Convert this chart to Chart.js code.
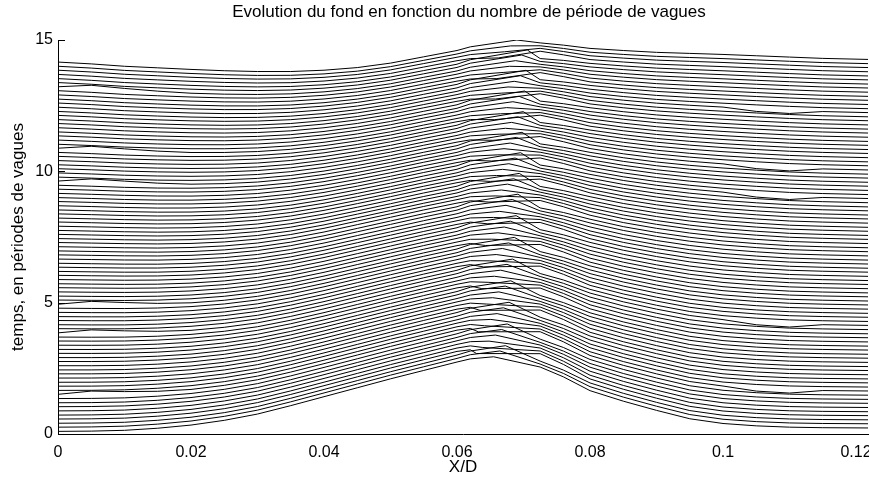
<!DOCTYPE html>
<html lang="fr">
<head>
<meta charset="UTF-8">
<title>Evolution du fond</title>
<style>
html,body{margin:0;padding:0;background:#fff;}
#wrap{width:869px;height:478px;position:relative;}
</style>
</head>
<body>
<div id="wrap"><canvas id="fond"></canvas></div>
<script src="https://cdn.jsdelivr.net/npm/chart.js"></script>
<script>
// abscisses X/D of the profile points (crest point is inserted per frame)
const xPos = [0, 0.005, 0.01, 0.015, 0.02, 0.025, 0.03, 0.035, 0.04, 0.045, 0.05, 0.055, 0.06, 0.062,
  0.0725, 0.076, 0.08, 0.085, 0.09, 0.095, 0.1, 0.105, 0.11, 0.115, 0.1218];
// bed elevation above each frame's time offset, read at three frames
const bedStart = [0.1, 0.11, 0.14, 0.22, 0.34, 0.52, 0.76, 1.08, 1.42, 1.76, 2.1, 2.42, 2.74, 2.8,
  2.5, 2.15, 1.65, 1.25, 0.9, 0.58, 0.4, 0.31, 0.26, 0.24, 0.23];
const bedMid = [0.1, 0.08, 0.06, 0.05, 0.07, 0.13, 0.24, 0.42, 0.66, 0.94, 1.22, 1.5, 1.76, 1.85,
  1.72, 1.55, 1.3, 1.02, 0.8, 0.62, 0.48, 0.38, 0.3, 0.26, 0.22];
const bedEnd = [0.1, 0.03, -0.06, -0.12, -0.18, -0.23, -0.26, -0.26, -0.21, -0.11, 0.06, 0.3, 0.54, 0.62,
  0.78, 0.72, 0.62, 0.54, 0.47, 0.43, 0.39, 0.34, 0.29, 0.24, 0.2];
const snapFrames = [0, 45, 90];
const crestX = [0.065, 0.067, 0.0685];
const crestZ = [2.65, 1.8, 0.65];
// crest cycle (avalanche pattern, repeats every six frames)
const crestShift = [-0.0022, -0.0013, -0.0004, 0.0005, 0.0014, 0.0022];
const crestRise = [0, 0.1, 0.2, 0.29, 0.37, 0.44];
const windRise = [0, 0.02, 0.04, 0.06, 0.08, 0.09];
const leeRise = [0.14, 0.11, 0.08, 0.05, 0.02, 0];
const leeRise2 = [0.07, 0.055, 0.04, 0.025, 0.01, 0];
const phaseStart = 3;
// frames showing a small kink near the left end and near x = 0.11
const leftKinkFrames = [9, 24, 31, 61, 69, 84];
const leftKink = [0.12, 0.08, 0.03];
const rightKinkFrames = [9, 25, 56, 63, 77];
const rightKink = [-0.1, -0.12];
// time offset of each plotted frame, in wave periods
const frameTimes = [0.00, 0.16, 0.31, 0.47, 0.62, 0.78, 0.94, 1.09, 1.25, 1.41, 1.56, 1.72, 1.87, 2.03, 2.19,
  2.34, 2.50, 2.66, 2.81, 2.97, 3.12, 3.28, 3.44, 3.59, 3.75, 3.91, 4.06, 4.22, 4.37, 4.53, 4.69, 4.84,
  5.00, 5.15, 5.31, 5.47, 5.62, 5.78, 5.94, 6.09, 6.25, 6.40, 6.56, 6.72, 6.87, 7.03, 7.19, 7.34, 7.50,
  7.65, 7.81, 7.97, 8.12, 8.28, 8.43, 8.59, 8.75, 8.90, 9.06, 9.22, 9.37, 9.53, 9.68, 9.84, 10.00, 10.15,
  10.31, 10.47, 10.62, 10.78, 10.93, 11.09, 11.25, 11.40, 11.56, 11.72, 11.87, 12.03, 12.18, 12.34, 12.50,
  12.65, 12.81, 12.97, 13.12, 13.28, 13.43, 13.59, 13.75, 13.90, 14.06];
const xTicks = [0, 0.02, 0.04, 0.06, 0.08, 0.1, 0.12];
const xTickLabels = ['0', '0.02', '0.04', '0.06', '0.08', '0.1', '0.12'];
const yTicks = [0, 5, 10, 15];
const chartTitle = 'Evolution du fond en fonction du nombre de période de vagues';

const bedSnaps = [bedStart, bedMid, bedEnd];
const iWind = xPos.indexOf(0.062), iLee = xPos.indexOf(0.0725), iLee2 = xPos.indexOf(0.076);
const iRight = xPos.indexOf(0.105);
function blend(a, b, w){ return a + (b - a) * w; }

const datasets = frameTimes.map((t, k) => {
  const seg = k <= snapFrames[1] ? 0 : 1;
  const w = (k - snapFrames[seg]) / (snapFrames[seg + 1] - snapFrames[seg]);
  const pa = bedSnaps[seg], pb = bedSnaps[seg + 1];
  const ph = (k + phaseStart) % crestRise.length;
  const z = xPos.map((x, i) => blend(pa[i], pb[i], w));
  z[iWind] += windRise[ph];
  z[iLee] += leeRise[ph];
  z[iLee2] += leeRise2[ph];
  if (leftKinkFrames.includes(k)) leftKink.forEach((d, j) => { z[1 + j] += d; });
  if (rightKinkFrames.includes(k)) rightKink.forEach((d, j) => { z[iRight + j] += d; });
  const pts = xPos.map((x, i) => ({x: x, y: t + z[i]}));
  pts.push({
    x: blend(crestX[seg], crestX[seg + 1], w) + crestShift[ph],
    y: t + blend(crestZ[seg], crestZ[seg + 1], w) + crestRise[ph]
  });
  pts.sort((p, q) => p.x - q.x);
  return {data: pts, borderColor: '#000', borderWidth: 1, pointRadius: 0, tension: 0, fill: false};
});

const font = 'Liberation Sans, Arial, Helvetica, sans-serif';

// inward tick marks and the figure title (placed over the axes like the original)
const decor = {
  id: 'decor',
  afterDatasetsDraw(chart){
    const ctx = chart.ctx, ys = chart.scales.y, a = chart.chartArea;
    ctx.save();
    ctx.strokeStyle = '#000';
    ctx.lineWidth = 1;
    yTicks.forEach(v => {
      const py = Math.round(ys.getPixelForValue(v)) + 0.5;
      ctx.beginPath(); ctx.moveTo(a.left, py); ctx.lineTo(a.left + 7, py); ctx.stroke();
    });
    ctx.fillStyle = '#000';
    ctx.font = '17px ' + font;
    ctx.textAlign = 'center';
    ctx.textBaseline = 'middle';
    ctx.fillText(chartTitle, 469, 12);
    ctx.restore();
  }
};

new Chart(document.getElementById('fond'), {
  type: 'line',
  data: {datasets: datasets},
  plugins: [decor],
  options: {
    responsive: true,
    maintainAspectRatio: false,
    animation: false,
    layout: {padding: {top: 40, right: 1, bottom: 0, left: 0}},
    plugins: {
      legend: {display: false},
      tooltip: {enabled: false},
      title: {display: false}
    },
    scales: {
      x: {
        type: 'linear', min: 0, max: 0.1218,
        afterBuildTicks: s => { s.ticks = xTicks.map(v => ({value: v})); },
        afterFit: s => { s.height = 44; s.paddingLeft = 0; s.paddingRight = 0; },
        grid: {display: false, drawTicks: false},
        border: {display: true, color: '#000', width: 1},
        ticks: {color: '#000', font: {family: font, size: 16}, padding: 9, maxRotation: 0, autoSkip: false,
          callback: (v, i) => xTickLabels[i]},
        title: {display: true, text: 'X/D', color: '#000', font: {family: font, size: 17}, padding: {top: 2, bottom: 0}}
      },
      y: {
        type: 'linear', min: 0, max: 15,
        afterBuildTicks: s => { s.ticks = yTicks.map(v => ({value: v})); },
        afterFit: s => { s.width = 58; s.paddingTop = 0; s.paddingBottom = 0; },
        grid: {display: false, drawTicks: false},
        border: {display: true, color: '#000', width: 1},
        ticks: {color: '#000', font: {family: font, size: 16}, padding: 5},
        title: {display: true, text: 'temps, en périodes de vagues', color: '#000', font: {family: font, size: 17}, padding: {top: 8, bottom: 0}}
      }
    }
  }
});
</script>
</body>
</html>
